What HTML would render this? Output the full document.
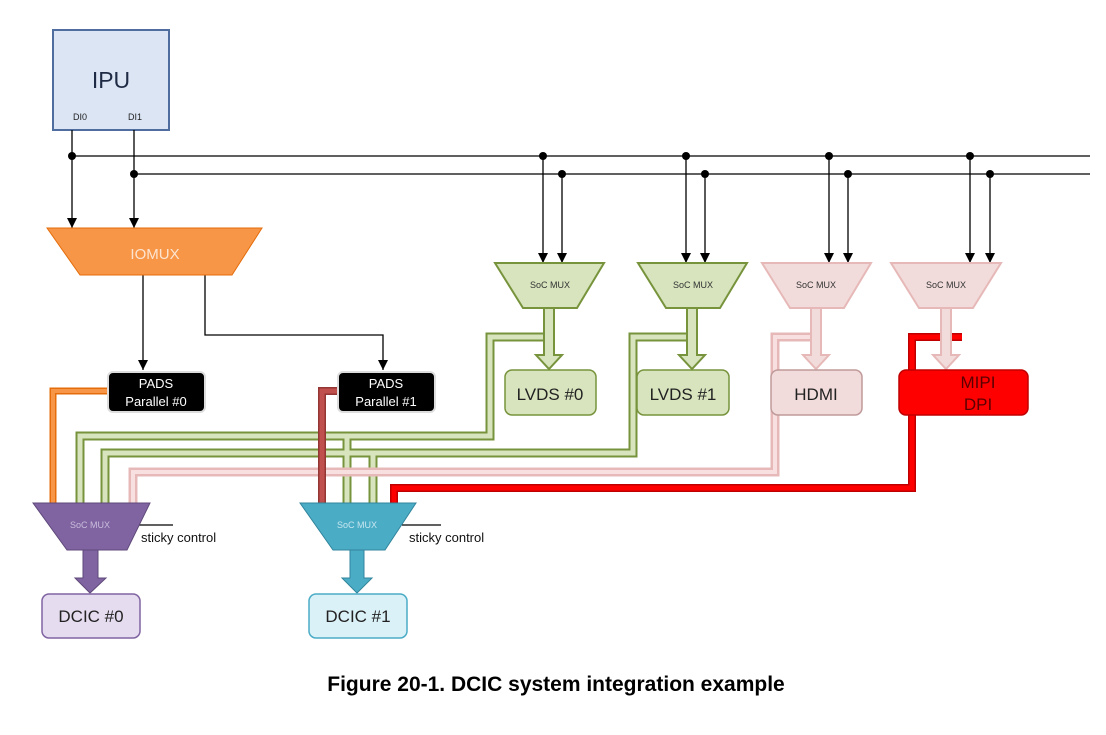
<!DOCTYPE html>
<html><head><meta charset="utf-8"><style>
html,body{margin:0;padding:0;background:#fff;}
svg{display:block;font-family:"Liberation Sans",sans-serif;}
</style></head><body>
<svg width="1106" height="735" viewBox="0 0 1106 735" xmlns="http://www.w3.org/2000/svg">
<defs>
<marker id="ah" markerWidth="10" markerHeight="10" refX="10" refY="5" orient="auto" markerUnits="userSpaceOnUse">
<path d="M0,0 L10,5 L0,10 Z" fill="#000"/></marker>
</defs>
<!-- IPU -->
<rect x="53" y="30" width="116" height="100" fill="#dbe5f4" stroke="#4f6e9f" stroke-width="2"/>
<text x="111" y="88" font-size="23" text-anchor="middle" fill="#1f2a44">IPU</text>
<text x="80" y="120" font-size="9" text-anchor="middle" fill="#222">DI0</text>
<text x="135" y="120" font-size="9" text-anchor="middle" fill="#222">DI1</text>
<!-- buses -->
<g stroke="#000" stroke-width="1.3" fill="none">
<line x1="72" y1="156" x2="1090" y2="156"/>
<line x1="134" y1="174" x2="1090" y2="174"/>
<line x1="72" y1="130" x2="72" y2="228" marker-end="url(#ah)"/>
<line x1="134" y1="130" x2="134" y2="228" marker-end="url(#ah)"/>
<line x1="543" y1="156" x2="543" y2="263" marker-end="url(#ah)"/>
<line x1="562" y1="174" x2="562" y2="263" marker-end="url(#ah)"/>
<line x1="686" y1="156" x2="686" y2="263" marker-end="url(#ah)"/>
<line x1="705" y1="174" x2="705" y2="263" marker-end="url(#ah)"/>
<line x1="829" y1="156" x2="829" y2="263" marker-end="url(#ah)"/>
<line x1="848" y1="174" x2="848" y2="263" marker-end="url(#ah)"/>
<line x1="970" y1="156" x2="970" y2="263" marker-end="url(#ah)"/>
<line x1="990" y1="174" x2="990" y2="263" marker-end="url(#ah)"/>
<line x1="143" y1="275" x2="143" y2="370" marker-end="url(#ah)"/>
<polyline points="205,275 205,335 383,335 383,370" marker-end="url(#ah)"/>
<line x1="133" y1="525" x2="173" y2="525"/>
<line x1="402" y1="525" x2="441" y2="525"/>
</g>
<g fill="#000">
<circle cx="72" cy="156" r="4"/><circle cx="134" cy="174" r="4"/>
<circle cx="543" cy="156" r="4"/><circle cx="562" cy="174" r="4"/>
<circle cx="686" cy="156" r="4"/><circle cx="705" cy="174" r="4"/>
<circle cx="829" cy="156" r="4"/><circle cx="848" cy="174" r="4"/>
<circle cx="970" cy="156" r="4"/><circle cx="990" cy="174" r="4"/>
</g>
<!-- IOMUX -->
<polygon points="47,228 262,228 232,275 80,275" fill="#f79646" stroke="#e46c0a" stroke-width="1"/>
<text x="155" y="259" font-size="15" text-anchor="middle" fill="#fde4d0">IOMUX</text>
<!-- routing wires -->
<g fill="none" stroke-linejoin="miter">
<g stroke="#77933c" stroke-width="9">
<polyline points="549,320 549,337 490,337 490,436 80,436 80,503"/>
<polyline points="347,436 347,503"/>
<polyline points="692,320 692,337 633,337 633,453 105,453 105,503"/>
<polyline points="373,453 373,503"/>
</g>
<g stroke="#d7e4bd" stroke-width="5">
<polyline points="549,320 549,337 490,337 490,436 80,436 80,503"/>
<polyline points="347,436 347,503"/>
<polyline points="692,320 692,337 633,337 633,453 105,453 105,503"/>
<polyline points="373,453 373,503"/>
</g>
<polyline points="815,320 815,337 775,337 775,472 133,472 133,503" stroke="#e6b9b8" stroke-width="9"/>
<polyline points="815,320 815,337 775,337 775,472 133,472 133,503" stroke="#f9e0e0" stroke-width="4"/>
<polyline points="962,337 912,337 912,488 394,488 394,503" stroke="#c00000" stroke-width="8"/>
<polyline points="962,337 912,337 912,488 394,488 394,503" stroke="#ff0000" stroke-width="5"/>
<polyline points="108,391 53,391 53,503" stroke="#e46c0a" stroke-width="7"/>
<polyline points="108,391 53,391 53,503" stroke="#f79646" stroke-width="4"/>
<polyline points="338,391 322,391 322,503" stroke="#943634" stroke-width="8"/>
<polyline points="338,391 322,391 322,503" stroke="#c0504d" stroke-width="5"/>
</g>
<!-- top SoC MUXes -->
<g font-size="9" text-anchor="middle" fill="#333">
<polygon points="495,263 604,263 577,308 523,308" fill="#d7e4bd" stroke="#77933c" stroke-width="2"/>
<text x="550" y="288">SoC MUX</text>
<polygon points="638,263 747,263 720,308 666,308" fill="#d7e4bd" stroke="#77933c" stroke-width="2"/>
<text x="693" y="288">SoC MUX</text>
<polygon points="762,263 871,263 844,308 790,308" fill="#f2dcdb" stroke="#e6b9b8" stroke-width="2"/>
<text x="816" y="288">SoC MUX</text>
<polygon points="891,263 1001,263 973,308 919,308" fill="#f2dcdb" stroke="#e6b9b8" stroke-width="2"/>
<text x="946" y="288">SoC MUX</text>
</g>
<!-- thick down arrows -->
<g stroke-width="2">
<path d="M544,308 L554,308 L554,355 L562,355 L549,369 L536,355 L544,355 Z" fill="#d7e4bd" stroke="#77933c"/>
<path d="M687,308 L697,308 L697,355 L705,355 L692,369 L679,355 L687,355 Z" fill="#d7e4bd" stroke="#77933c"/>
<path d="M811,308 L821,308 L821,355 L829,355 L816,369 L803,355 L811,355 Z" fill="#f2dcdb" stroke="#e6b9b8"/>
<path d="M941,308 L951,308 L951,355 L959,355 L946,369 L933,355 L941,355 Z" fill="#f2dcdb" stroke="#e6b9b8"/>
</g>
<!-- output boxes -->
<rect x="505" y="370" width="91" height="45" rx="7" fill="#d7e4bd" stroke="#77933c" stroke-width="1.5"/>
<text x="550" y="400" font-size="17" text-anchor="middle" fill="#222">LVDS #0</text>
<rect x="637" y="370" width="92" height="45" rx="7" fill="#d7e4bd" stroke="#77933c" stroke-width="1.5"/>
<text x="683" y="400" font-size="17" text-anchor="middle" fill="#222">LVDS #1</text>
<rect x="771" y="370" width="91" height="45" rx="7" fill="#f2dcdb" stroke="#c09a9a" stroke-width="1.5"/>
<text x="816" y="400" font-size="17" text-anchor="middle" fill="#222">HDMI</text>
<rect x="899" y="370" width="129" height="45" rx="7" fill="#ff0000" stroke="#c00000" stroke-width="1.5"/>
<text x="978" y="388" font-size="17" text-anchor="middle" fill="#5a0000">MIPI</text>
<text x="978" y="410" font-size="17" text-anchor="middle" fill="#5a0000">DPI</text>
<!-- PADS -->
<rect x="108" y="372" width="97" height="40" rx="5" fill="#000" stroke="#ddd" stroke-width="2"/>
<text x="156" y="388" font-size="13" text-anchor="middle" fill="#fff">PADS</text>
<text x="156" y="406" font-size="13" text-anchor="middle" fill="#fff">Parallel #0</text>
<rect x="338" y="372" width="97" height="40" rx="5" fill="#000" stroke="#ddd" stroke-width="2"/>
<text x="386" y="388" font-size="13" text-anchor="middle" fill="#fff">PADS</text>
<text x="386" y="406" font-size="13" text-anchor="middle" fill="#fff">Parallel #1</text>
<!-- bottom muxes -->
<polygon points="33,503 150,503 127,550 67,550" fill="#8064a2" stroke="#5f497a" stroke-width="1"/>
<text x="90" y="528" font-size="9" text-anchor="middle" fill="#c9bcdc">SoC MUX</text>
<text x="141" y="542" font-size="13" fill="#111">sticky control</text>
<path d="M83,550 L98,550 L98,578 L106,578 L90,593 L75,578 L83,578 Z" fill="#8064a2" stroke="#5f497a"/>
<rect x="42" y="594" width="98" height="44" rx="7" fill="#e5dcf0" stroke="#8064a2" stroke-width="1.5"/>
<text x="91" y="622" font-size="17" text-anchor="middle" fill="#222">DCIC #0</text>
<polygon points="300,503 416,503 385,550 333,550" fill="#4bacc6" stroke="#31859c" stroke-width="1"/>
<text x="357" y="528" font-size="9" text-anchor="middle" fill="#c6e6ef">SoC MUX</text>
<text x="409" y="542" font-size="13" fill="#111">sticky control</text>
<path d="M350,550 L364,550 L364,578 L372,578 L357,593 L342,578 L350,578 Z" fill="#4bacc6" stroke="#31859c"/>
<rect x="309" y="594" width="98" height="44" rx="7" fill="#dbf1f8" stroke="#4bacc6" stroke-width="1.5"/>
<text x="358" y="622" font-size="17" text-anchor="middle" fill="#222">DCIC #1</text>
<!-- caption -->
<text x="556" y="691" font-size="21" font-weight="bold" text-anchor="middle" fill="#000">Figure 20-1. DCIC system integration example</text>
</svg>
</body></html>
